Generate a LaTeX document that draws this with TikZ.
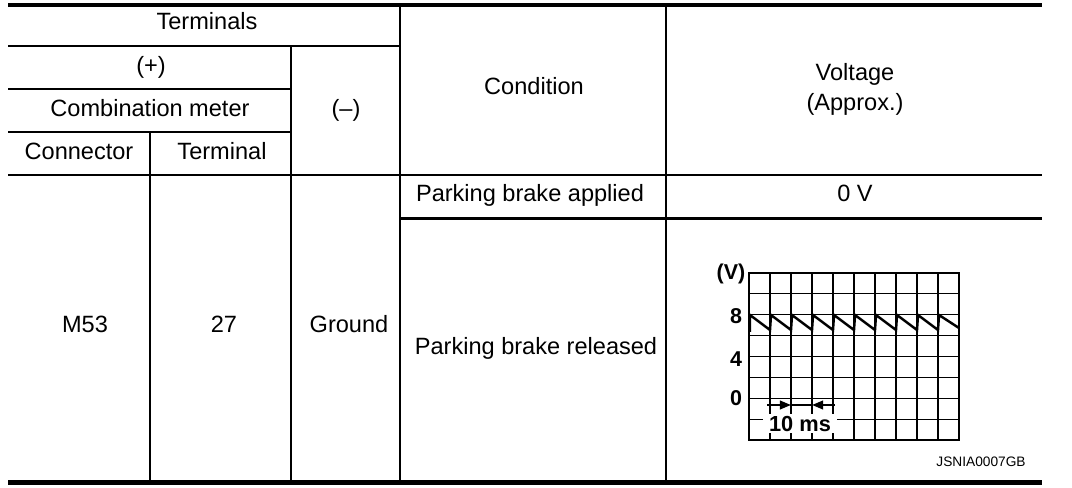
\documentclass[tikz,border=0pt]{standalone}
\usepackage{fontspec}
\setmainfont{Liberation Sans}
\usetikzlibrary{arrows.meta}
\begin{document}
\begin{tikzpicture}[x=0.01cm,y=-0.01cm,
  thinrule/.style={line width=0.57pt},
  thickrule/.style={line width=1.3pt},
  txt/.style={font=\fontsize{6.7}{8}\selectfont, inner sep=0pt, anchor=base},
  gridthin/.style={line width=0.3pt},
  gridframe/.style={line width=0.6pt},
  wave/.style={line width=0.7pt, line join=miter},
  axlabel/.style={font=\fontsize{6.1}{7}\selectfont\bfseries, inner sep=0pt, anchor=center},
  dimarrow/.style={line width=0.6pt, -{Triangle[length=0.11cm,width=0.085cm]}},
  refcode/.style={font=\fontsize{3.9}{5}\selectfont, inner sep=0pt, anchor=center}]
\useasboundingbox (0,0) rectangle (1072,488);
% table rules
\draw[thickrule] (8,5) -- (1042,5);
\draw[thickrule] (8,482.5) -- (1042,482.5);
\draw[thinrule] (8,46.5) -- (400,46.5);
\draw[thinrule] (8,89) -- (291,89);
\draw[thinrule] (8,132.5) -- (291,132.5);
\draw[thinrule] (8,175.5) -- (1042,175.5);
\draw[thinrule] (400,218.5) -- (1042,218.5);
\draw[thinrule] (150,132.5) -- (150,482.5);
\draw[thinrule] (291,46.5) -- (291,482.5);
\draw[thinrule] (400,5) -- (400,482.5);
\draw[thinrule] (666,5) -- (666,482.5);
% header texts
\node[txt] (terminals) at (207,30) {Terminals};
\node[txt] (plus) at (151,74) {(+)};
\node[txt] (combmeter) at (150,117) {Combination meter};
\node[txt] (minus) at (346,117) {(--)};
\node[txt] (connector) at (79,160) {Connector};
\node[txt] (terminal) at (222,160) {Terminal};
\node[txt] (condition) at (534,95) {Condition};
\node[txt] (voltage) at (855,81) {Voltage};
\node[txt] (approx) at (855,111) {(Approx.)};
% data texts
\node[txt] (applied) at (530,202) {Parking brake applied};
\node[txt] (zerov) at (855,202) {0 V};
\node[txt] (m53) at (85,333) {M53};
\node[txt] (t27) at (224,333) {27};
\node[txt] (ground) at (349,333) {Ground};
\node[txt] (released) at (536,355) {Parking brake released};
% oscilloscope grid
\foreach \i in {1,...,9} \draw[gridthin] ({749+21*\i},273) -- ({749+21*\i},440);
\foreach \j in {1,...,7} \draw[gridthin] (749,{273+20.875*\j}) -- (959,{273+20.875*\j});
\draw[gridframe] (749,273) rectangle (959,440);
% waveform
\draw[wave] (750,332) -- (750,315)
  \foreach \k in {1,...,9} { -- ({749+21*\k},330) -- ({750+21*\k},315) } -- (959,328);
% axis labels
\node[axlabel] (vunit) at (731,274) {(V)};
\node[axlabel] (l8) at (736,316) {8};
\node[axlabel] (l4) at (736,359) {4};
\node[axlabel] (l0) at (736,398.5) {0};
% 10 ms dimension
\coordinate (dl) at (767,405);
\coordinate (dr) at (835,405);
\coordinate (tl) at (791,405);
\coordinate (tr) at (812,405);
\draw[dimarrow] (dl) -- (tl);
\draw[dimarrow] (dr) -- (tr);
\draw[line width=0.6pt] (tl) -- (tr);
\node[fill=white, inner sep=0pt, minimum width=0.74cm, minimum height=0.19cm,
  font=\fontsize{6.2}{7}\selectfont\bfseries] (tenms) at (800,423.5) {10 ms};
% reference code
\node[refcode] (code) at (981,462) {JSNIA0007GB};
\end{tikzpicture}
\end{document}
